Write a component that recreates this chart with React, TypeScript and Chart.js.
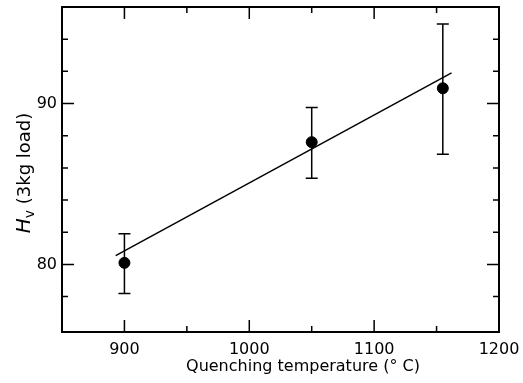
import React, { useEffect, useRef } from "react";
import { Chart, registerables } from "chart.js";

Chart.register(...registerables);

// Data
const quenchTemps = [900, 1050, 1155];
const hardness = [80.1, 87.6, 90.95];
const hardnessHigh = [81.9, 89.75, 94.95];
const hardnessLow = [78.2, 85.35, 86.85];
const fitTemps = [893, 1162];
const fitHardness = [80.55, 91.9];

const xTickValues = [900, 950, 1000, 1050, 1100, 1150, 1200];
const xLabelled = [900, 1000, 1100, 1200];
const yTickValues = [78, 80, 82, 84, 86, 88, 90, 92, 94];
const yLabelled = [80, 90];

const X_MIN = 850;
const X_MAX = 1200;
const Y_MIN = 75.8;
const Y_MAX = 96;

const FONT = "'DejaVu Sans', sans-serif";

const framePlugin = {
  id: "frame",
  afterDatasetsDraw(chart: any) {
    const ctx = chart.ctx;
    const { left, right, top, bottom } = chart.chartArea;
    const xs = chart.scales.x;
    const ys = chart.scales.y;
    ctx.save();
    ctx.strokeStyle = "#000";
    ctx.fillStyle = "#000";

    // error bars
    ctx.lineWidth = 1.5;
    for (let i = 0; i < quenchTemps.length; i++) {
      const px = xs.getPixelForValue(quenchTemps[i]);
      const pHi = ys.getPixelForValue(hardnessHigh[i]);
      const pLo = ys.getPixelForValue(hardnessLow[i]);
      ctx.beginPath();
      ctx.moveTo(px, pHi);
      ctx.lineTo(px, pLo);
      ctx.moveTo(px - 6, pHi);
      ctx.lineTo(px + 6, pHi);
      ctx.moveTo(px - 6, pLo);
      ctx.lineTo(px + 6, pLo);
      ctx.stroke();
    }

    // frame
    ctx.lineWidth = 2;
    ctx.strokeRect(left, top, right - left, bottom - top);

    // ticks (inward, all four sides)
    ctx.lineWidth = 1.5;
    ctx.beginPath();
    for (const v of xTickValues) {
      const px = xs.getPixelForValue(v);
      const len = xLabelled.includes(v) ? 12 : 6;
      ctx.moveTo(px, bottom);
      ctx.lineTo(px, bottom - len);
      ctx.moveTo(px, top);
      ctx.lineTo(px, top + len);
    }
    for (const v of yTickValues) {
      const py = ys.getPixelForValue(v);
      const len = yLabelled.includes(v) ? 12 : 6;
      ctx.moveTo(left, py);
      ctx.lineTo(left + len, py);
      ctx.moveTo(right, py);
      ctx.lineTo(right - len, py);
    }
    ctx.stroke();

    // x title
    ctx.font = `16px ${FONT}`;
    ctx.textAlign = "center";
    ctx.textBaseline = "middle";
    ctx.fillText("Quenching temperature (° C)", xs.getPixelForValue(1043), 367);

    // y title with italic H and subscript v
    ctx.translate(23, 173);
    ctx.rotate(-Math.PI / 2);
    const partH = "H";
    const partV = "v";
    const rest = " (3kg load)";
    ctx.font = `italic 20px ${FONT}`;
    const wH = ctx.measureText(partH).width;
    ctx.font = `14px ${FONT}`;
    const wV = ctx.measureText(partV).width;
    ctx.font = `18px ${FONT}`;
    const wR = ctx.measureText(rest).width;
    const total = wH + wV + wR;
    let cx = -total / 2;
    ctx.textAlign = "left";
    ctx.textBaseline = "alphabetic";
    ctx.font = `italic 20px ${FONT}`;
    ctx.fillText(partH, cx, 7);
    cx += wH;
    ctx.font = `14px ${FONT}`;
    ctx.fillText(partV, cx, 11);
    cx += wV;
    ctx.font = `18px ${FONT}`;
    ctx.fillText(rest, cx, 7);
    ctx.restore();
  },
};

export default function App() {
  const ref = useRef<HTMLCanvasElement>(null);

  useEffect(() => {
    if (!ref.current) return;
    const chart = new Chart(ref.current, {
      type: "scatter",
      data: {
        datasets: [
          {
            type: "line",
            data: fitTemps.map((x, i) => ({ x, y: fitHardness[i] })),
            borderColor: "#000",
            borderWidth: 1.5,
            pointRadius: 0,
            fill: false,
          } as any,
          {
            data: quenchTemps.map((x, i) => ({ x, y: hardness[i] })),
            backgroundColor: "#000",
            borderColor: "#000",
            pointRadius: 5.5,
          },
        ],
      },
      options: {
        animation: false,
        responsive: false,
        layout: { padding: { top: 7, right: 24, left: 0, bottom: 0 } },
        plugins: { legend: { display: false }, tooltip: { enabled: false } },
        scales: {
          x: {
            type: "linear",
            min: X_MIN,
            max: X_MAX,
            grid: { display: false, drawTicks: false },
            border: { display: false },
            afterBuildTicks: (s: any) => {
              s.ticks = xTickValues.map((v) => ({ value: v }));
            },
            afterFit: (s: any) => {
              s.height = 51;
              s.paddingLeft = 0;
              s.paddingRight = 0;
            },
            ticks: {
              autoSkip: false,
              maxRotation: 0,
              padding: 8,
              color: "#000",
              font: { family: FONT, size: 16 },
              callback: (v: any) => (xLabelled.includes(Number(v)) ? String(v) : ""),
            },
          },
          y: {
            type: "linear",
            min: Y_MIN,
            max: Y_MAX,
            grid: { display: false, drawTicks: false },
            border: { display: false },
            afterBuildTicks: (s: any) => {
              s.ticks = yTickValues.map((v) => ({ value: v }));
            },
            afterFit: (s: any) => {
              s.width = 62;
              s.paddingTop = 0;
              s.paddingBottom = 0;
            },
            ticks: {
              autoSkip: false,
              padding: 5,
              color: "#000",
              font: { family: FONT, size: 16 },
              callback: (v: any) => (yLabelled.includes(Number(v)) ? String(v) : ""),
            },
          },
        },
      },
      plugins: [framePlugin],
    });
    return () => chart.destroy();
  }, []);

  return (
    <div style={{ position: "fixed", left: 0, top: 0, width: 523, height: 383, background: "#fff" }}>
      <canvas ref={ref} width={523} height={383} style={{ width: 523, height: 383 }} />
    </div>
  );
}
